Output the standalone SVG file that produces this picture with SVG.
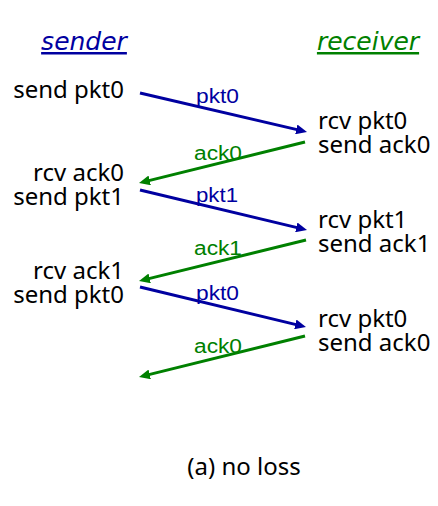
<svg xmlns="http://www.w3.org/2000/svg" width="438" height="506" viewBox="0 0 438 506">
<style>
.t{font-family:"Noto Sans","DejaVu Sans",sans-serif;font-size:24px;fill:#000}
.l{text-anchor:end}
.h{font-family:"DejaVu Sans",Verdana,sans-serif;font-size:25px;font-style:italic;text-decoration:underline;text-anchor:middle}
.lb{font-family:"Liberation Sans",Arial,sans-serif;font-size:20px}
.b{fill:#0000a0}
.g{fill:#008000}
.ab{stroke:#0000a0;stroke-width:3;fill:none;marker-end:url(#mb)}
.ag{stroke:#008000;stroke-width:3;fill:none;marker-end:url(#mg)}
</style>
<defs>
<marker id="mb" viewBox="0 0 11 10" refX="3" refY="5" markerWidth="11" markerHeight="10" markerUnits="userSpaceOnUse" orient="auto"><path d="M0,0 L11,5 L0,10 z" fill="#0000a0"/></marker>
<marker id="mg" viewBox="0 0 11 10" refX="3" refY="5" markerWidth="11" markerHeight="10" markerUnits="userSpaceOnUse" orient="auto"><path d="M0,0 L11,5 L0,10 z" fill="#008000"/></marker>
</defs>
<rect width="438" height="506" fill="#fff"/>
<g id="sender"><text class="h b" x="84" y="50">sender</text></g>
<g id="receiver"><text class="h g" x="368" y="50">receiver</text></g>
<g id="s1"><text class="t l" x="124" y="98">send pkt0</text></g>
<g id="r1"><text class="t" x="318" y="129">rcv pkt0<tspan x="318" dy="24">send ack0</tspan></text></g>
<g id="s2"><text class="t l" x="124" y="181">rcv ack0<tspan x="124" dy="24">send pkt1</tspan></text></g>
<g id="r2"><text class="t" x="318" y="228">rcv pkt1<tspan x="318" dy="24">send ack1</tspan></text></g>
<g id="s3"><text class="t l" x="124" y="279">rcv ack1<tspan x="124" dy="24">send pkt0</tspan></text></g>
<g id="r3"><text class="t" x="318" y="327">rcv pkt0<tspan x="318" dy="24">send ack0</tspan></text></g>
<g id="connectors">
<path class="ab" d="M140,93 L299.2,130.1"/>
<path class="ag" d="M305,142 L146.8,181.1"/>
<path class="ab" d="M140,190 L299.2,228.1"/>
<path class="ag" d="M306,240 L146.8,279.1"/>
<path class="ab" d="M140,287 L298.2,325.1"/>
<path class="ag" d="M305,336 L146.8,375.1"/>
<text class="lb b" x="196" y="103" textLength="43" lengthAdjust="spacingAndGlyphs">pkt0</text>
<text class="lb g" x="194" y="160" textLength="48" lengthAdjust="spacingAndGlyphs">ack0</text>
<text class="lb b" x="196" y="202" textLength="42" lengthAdjust="spacingAndGlyphs">pkt1</text>
<text class="lb g" x="194" y="255" textLength="48" lengthAdjust="spacingAndGlyphs">ack1</text>
<text class="lb b" x="196" y="300" textLength="43" lengthAdjust="spacingAndGlyphs">pkt0</text>
<text class="lb g" x="194" y="353" textLength="48" lengthAdjust="spacingAndGlyphs">ack0</text>
</g>
<g id="caption"><text class="t" x="244" y="475" text-anchor="middle" font-size="26">(a) no loss</text></g>
</svg>
